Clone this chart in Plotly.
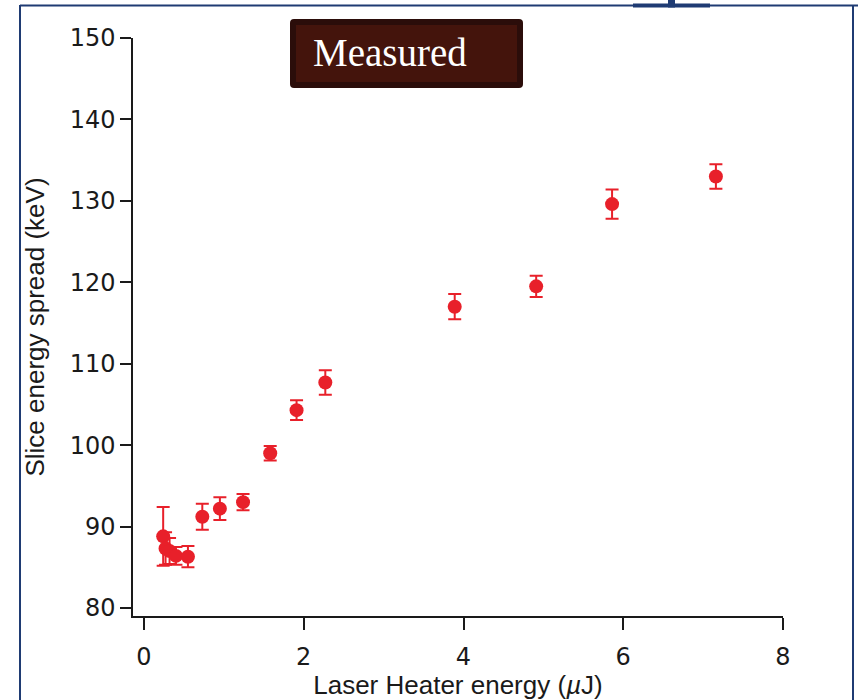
import plotly.graph_objects as go

# Data
laser_energy_uJ = [0.24, 0.27, 0.32, 0.40, 0.55, 0.73, 0.95, 1.24, 1.58, 1.91, 2.27, 3.89, 4.91, 5.86, 7.16]
slice_spread_keV = [88.8, 87.3, 87.0, 86.4, 86.3, 91.2, 92.2, 93.0, 99.0, 104.3, 107.7, 117.0, 119.5, 129.6, 133.0]
spread_err_keV = [3.6, 2.0, 1.6, 1.1, 1.3, 1.6, 1.4, 1.0, 0.9, 1.2, 1.5, 1.55, 1.3, 1.8, 1.5]
x_ticks = [0, 2, 4, 6, 8]
y_ticks = [80, 90, 100, 110, 120, 130, 140, 150]
title_text = "Measured"
x_label = "Laser Heater energy (<i>µ</i>J)"
y_label = "Slice energy spread (keV)"

RED = "#e8202a"
BLUE = "#1f3b73"

# plot area in pixels
L, R, T, B = 133, 783, 38, 616
W, H = 858, 700
PW, PH = R - L, B - T

def px(x):
    return (x - L) / PW

def py(y):
    return (B - y) / PH

fig = go.Figure()
fig.add_trace(go.Scatter(
    x=laser_energy_uJ, y=slice_spread_keV, mode="markers",
    marker=dict(color=RED, size=14, line=dict(width=0)),
    error_y=dict(type="data", array=spread_err_keV, visible=True,
                 color=RED, thickness=2, width=6.5),
    showlegend=False,
))

shapes = []
# outer blue frame
shapes.append(dict(type="line", xref="paper", yref="paper",
                   x0=px(20), x1=px(20), y0=py(5), y1=py(705),
                   line=dict(color=BLUE, width=2)))
shapes.append(dict(type="line", xref="paper", yref="paper",
                   x0=px(853), x1=px(853), y0=py(5), y1=py(705),
                   line=dict(color=BLUE, width=2)))
shapes.append(dict(type="line", xref="paper", yref="paper",
                   x0=px(20), x1=px(860), y0=py(5.5), y1=py(5.5),
                   line=dict(color=BLUE, width=2)))
# thick cut-off glyph segment at top
shapes.append(dict(type="rect", xref="paper", yref="paper",
                   x0=px(633), x1=px(710), y0=py(7.5), y1=py(3.5),
                   fillcolor=BLUE, line=dict(width=0)))
shapes.append(dict(type="rect", xref="paper", yref="paper",
                   x0=px(668), x1=px(675), y0=py(7.5), y1=py(-2),
                   fillcolor=BLUE, line=dict(width=0)))

# title box with rounded corners
bx0, bx1, by0, by1, r = 290, 523, 19, 88, 4
def P(x, y):
    return f"{px(x):.5f},{py(y):.5f}"
path = (f"M {P(bx0 + r, by0)} L {P(bx1 - r, by0)} Q {P(bx1, by0)} {P(bx1, by0 + r)} "
        f"L {P(bx1, by1 - r)} Q {P(bx1, by1)} {P(bx1 - r, by1)} "
        f"L {P(bx0 + r, by1)} Q {P(bx0, by1)} {P(bx0, by1 - r)} "
        f"L {P(bx0, by0 + r)} Q {P(bx0, by0)} {P(bx0 + r, by0)} Z")
shapes.append(dict(type="path", xref="paper", yref="paper", path=path,
                   fillcolor="#2b0d0a", line=dict(width=0)))
shapes.append(dict(type="rect", xref="paper", yref="paper",
                   x0=px(296), x1=px(517), y0=py(82), y1=py(25),
                   fillcolor="#44140c", line=dict(width=0)))

tick_font = dict(family="DejaVu Sans", size=24, color="#1a1a1a")
title_font = dict(family="Liberation Sans", size=26, color="#1a1a1a")

fig.update_layout(
    width=W, height=H,
    margin=dict(l=L, r=W - R, t=T, b=H - B, pad=0, autoexpand=False),
    paper_bgcolor="white", plot_bgcolor="white",
    font=dict(family="DejaVu Sans", size=23, color="#1a1a1a"),
    shapes=shapes,
    annotations=[dict(text=title_text, xref="paper", yref="paper",
                      x=px(311), y=py(53), xanchor="left", yanchor="middle",
                      showarrow=False,
                      font=dict(family="Liberation Serif", size=39, color="white"))],
    xaxis=dict(range=[(L - 144) / 79.9, 8], tickvals=x_ticks, automargin=False,
               showline=True, linecolor="#1a1a1a", linewidth=1.5,
               ticks="outside", ticklen=12, tickwidth=1.5, tickcolor="#1a1a1a",
               ticklabelstandoff=6, tickfont=tick_font,
               showgrid=False, zeroline=False,
               title=dict(text=x_label, standoff=6, font=title_font)),
    yaxis=dict(range=[80 - (B - 608) / 8.143, 150], tickvals=y_ticks, automargin=False,
               showline=True, linecolor="#1a1a1a", linewidth=1.5,
               ticks="outside", ticklen=11, tickwidth=1.5, tickcolor="#1a1a1a",
               tickfont=tick_font,
               showgrid=False, zeroline=False,
               title=dict(text=y_label, standoff=18, font=title_font)),
)

fig.write_html("out.html")
